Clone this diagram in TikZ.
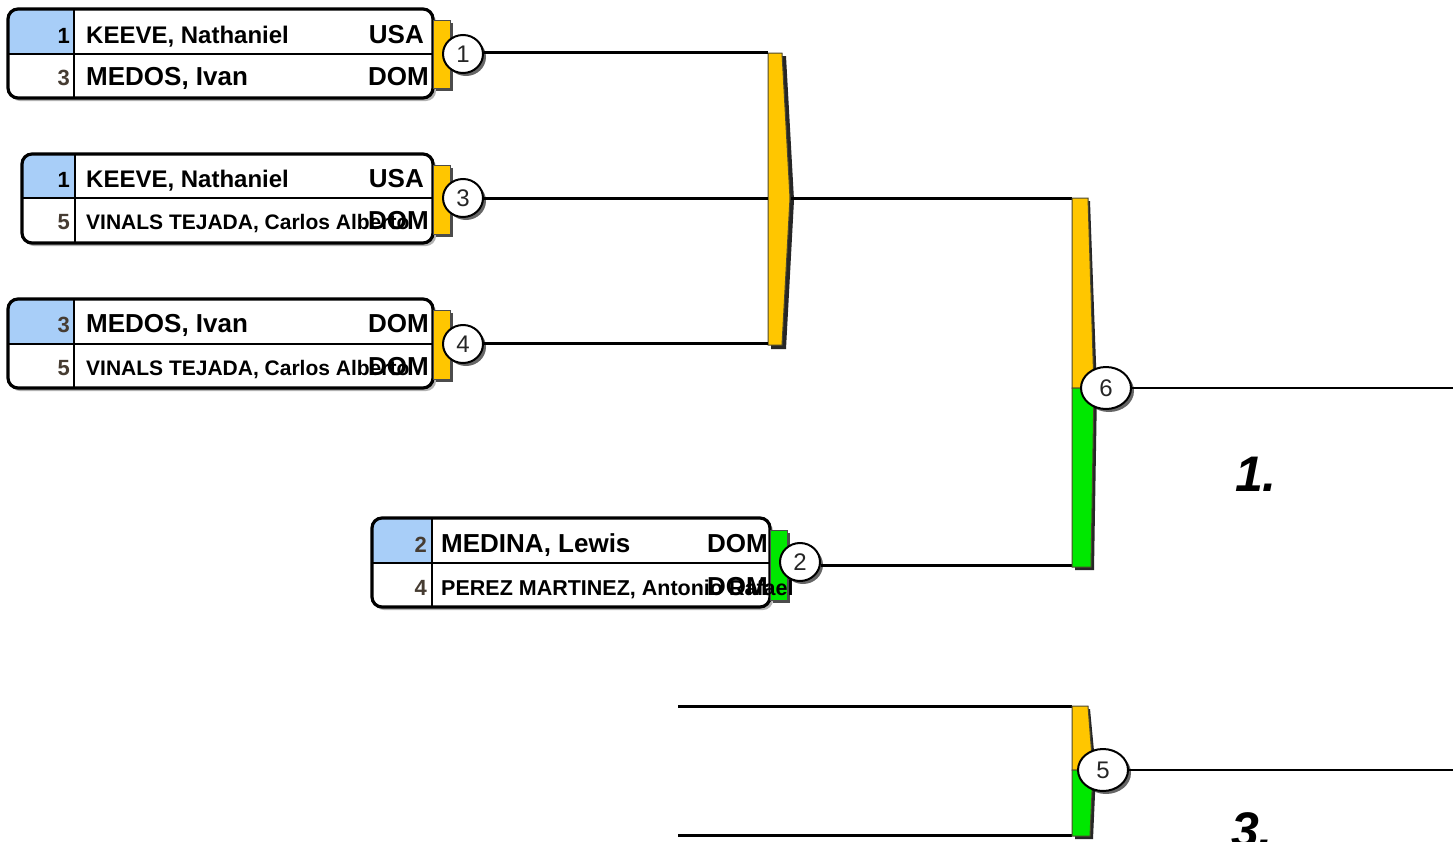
\documentclass[tikz,border=0pt]{standalone}
\usepackage{fontspec}
\setmainfont{Liberation Sans}
\usetikzlibrary{shapes.geometric,shadows}
\definecolor{gold}{RGB}{255,198,0}
\definecolor{grn}{RGB}{0,232,0}
\definecolor{seedblue}{RGB}{168,206,248}
\definecolor{seedtxt}{RGB}{70,60,50}
\newcommand\fsz[1]{\fontsize{#1}{#1}\selectfont}
\tikzset{
  boxshadow/.style={fill=black!30, rounded corners=10},
  boxframe/.style={draw=black, line width=3.2, rounded corners=10},
  cell/.style={draw=black, line width=1.5},
  seed/.style={anchor=base east, inner sep=0, text=seedtxt, font=\bfseries\fsz{22}},
  bigname/.style={anchor=base west, inner sep=0, font=\bfseries\fsz{26}},
  smallname/.style={anchor=base west, inner sep=0, font=\bfseries\fsz{21}},
  cty/.style={anchor=base east, inner sep=0, font=\bfseries\fsz{26}},
  tab/.style={draw=black!70, line width=1},
  num/.style={ellipse, draw=black, line width=2, fill=white, inner sep=0,
     minimum width=40, minimum height=38, text=black!85, font=\fsz{24},
     drop shadow={shadow xshift=3pt, shadow yshift=-3pt, fill=black, opacity=.6}},
  conn/.style={draw=black, line width=3},
  thin/.style={draw=black, line width=1.8},
  bar/.style={draw=black!60!olive, line width=1},
  barshadow/.style={fill=black!85},
  place/.style={inner sep=0, font=\bfseries\itshape\fsz{50}}
}
\begin{document}
\begin{tikzpicture}[x=1pt,y=-1pt]
\useasboundingbox (0,0) rectangle (1453,841);
\fill[white] (0,0) rectangle (1453,841);

% ---------- match box 1 ----------
\fill[boxshadow] (10,12) rectangle (436,101);
\fill[white, rounded corners=10] (8,9) rectangle (433,98);
\begin{scope}\clip[rounded corners=10] (8,9) rectangle (433,98);
\fill[seedblue] (8,9) rectangle (74,54);\end{scope}
\draw[cell] (74,9) -- (74,98) (8,54) -- (433,54);
\draw[boxframe] (8,9) rectangle (433,98);
\node[seed, text=black] (s1a) at (70,43) {1};
\node[bigname, font=\bfseries\fsz{24}] (n1a) at (86,43) {KEEVE, Nathaniel};
\node[cty] (k1a) at (424,43) {USA};
\node[seed] (s1b) at (70,85) {3};
\node[bigname] (n1b) at (86,85) {MEDOS, Ivan};
\node[cty] (k1b) at (429,85) {DOM};
\fill[black!70] (436,23) rectangle (453,91);
\filldraw[tab, fill=gold] (433,20) rectangle (450,88);
\node[num] (c1) at (463,54) {1};

% ---------- match box 3 ----------
\fill[boxshadow] (24,157) rectangle (436,246);
\fill[white, rounded corners=10] (22,154) rectangle (433,243);
\begin{scope}\clip[rounded corners=10] (22,154) rectangle (433,243);
\fill[seedblue] (22,154) rectangle (75,198);\end{scope}
\draw[cell] (75,154) -- (75,243) (22,198) -- (433,198);
\draw[boxframe] (22,154) rectangle (433,243);
\node[seed, text=black] (s3a) at (70,187) {1};
\node[bigname, font=\bfseries\fsz{24}] (n3a) at (86,187) {KEEVE, Nathaniel};
\node[cty] (k3a) at (424,187) {USA};
\node[seed] (s3b) at (70,229) {5};
\node[smallname] (n3b) at (86,229) {VINALS TEJADA, Carlos Alberto};
\node[cty] (k3b) at (429,229) {DOM};
\fill[black!70] (436,168) rectangle (453,237);
\filldraw[tab, fill=gold] (433,165) rectangle (450,234);
\node[num] (c3) at (463,198) {3};

% ---------- match box 4 ----------
\fill[boxshadow] (10,302) rectangle (436,391);
\fill[white, rounded corners=10] (8,299) rectangle (433,388);
\begin{scope}\clip[rounded corners=10] (8,299) rectangle (433,388);
\fill[seedblue] (8,299) rectangle (74,344);\end{scope}
\draw[cell] (74,299) -- (74,388) (8,344) -- (433,344);
\draw[boxframe] (8,299) rectangle (433,388);
\node[seed] (s4a) at (70,332) {3};
\node[bigname] (n4a) at (86,332) {MEDOS, Ivan};
\node[cty] (k4a) at (429,332) {DOM};
\node[seed] (s4b) at (70,375) {5};
\node[smallname] (n4b) at (86,375) {VINALS TEJADA, Carlos Alberto};
\node[cty] (k4b) at (429,375) {DOM};
\fill[black!70] (436,313) rectangle (453,382);
\filldraw[tab, fill=gold] (433,310) rectangle (450,379);
\node[num] (c4) at (463,344) {4};

% ---------- match box 2 ----------
\fill[boxshadow] (374,521) rectangle (773,610);
\fill[white, rounded corners=10] (372,518) rectangle (770,607);
\begin{scope}\clip[rounded corners=10] (372,518) rectangle (770,607);
\fill[seedblue] (372,518) rectangle (432,563);\end{scope}
\draw[cell] (432,518) -- (432,607) (372,563) -- (770,563);
\draw[boxframe] (372,518) rectangle (770,607);
\node[seed] (s2a) at (427,552) {2};
\node[bigname] (n2a) at (441,552) {MEDINA, Lewis};
\node[cty] (k2a) at (768,552) {DOM};
\node[seed] (s2b) at (427,595) {4};
\fill[black!70] (773,533) rectangle (790,603);
\filldraw[tab, fill=grn] (770,530) rectangle (787,600);
\node[smallname, font=\bfseries\fsz{21.5}] (n2b) at (441,595) {PEREZ MARTINEZ, Antonio Rafael};
\node[cty] (k2b) at (768,595) {DOM};
\node[num] (c2) at (800,562) {2};

% ---------- bar A (matches 1,3,4) ----------
\coordinate (a1) at (768,52);
\coordinate (a3) at (768,198);
\coordinate (a4) at (768,343);
\coordinate (aout) at (791,198);
\fill[barshadow] (771,56) -- (786,56) -- (794,200) -- (786,349) -- (771,349) -- cycle;
\filldraw[bar, fill=gold] (768,53) -- (782,53) -- (790,198) -- (782,345) -- (768,345) -- cycle;
\draw[conn] (c1.east |- a1) -- (a1);
\draw[conn] (c3.east) -- (a3);
\draw[conn] (c4.east |- a4) -- (a4);

% ---------- bar 6 ----------
\coordinate (b6in) at (1072,198);
\coordinate (b6in2) at (1072,565);
\draw[conn] (aout) -- (b6in);
\draw[conn] (c2.east |- b6in2) -- (b6in2);
\fill[barshadow] (1075,201) -- (1090,201) -- (1097,390) -- (1094,570) -- (1075,570) -- cycle;
\filldraw[bar, fill=gold] (1072,198) -- (1088,198) -- (1094,388) -- (1072,388) -- cycle;
\filldraw[bar, fill=grn] (1072,388) -- (1094,388) -- (1091,567) -- (1072,567) -- cycle;
\node[num, minimum width=50, minimum height=42] (c6) at (1106,388) {6};
\coordinate (e6) at (1453,388);
\draw[thin] (c6.east) -- (e6);
\node[place] (p1) at (1256,474) {1.};

% ---------- bar 5 ----------
\coordinate (l5a) at (678,706);
\coordinate (l5b) at (678,835);
\coordinate (b5a) at (1072,706);
\coordinate (b5b) at (1072,835);
\draw[conn] (l5a) -- (b5a);
\draw[conn] (l5b) -- (b5b);
\fill[barshadow] (1075,709) -- (1090,709) -- (1096,772) -- (1093,839) -- (1075,839) -- cycle;
\filldraw[bar, fill=gold] (1072,706) -- (1088,706) -- (1093,770) -- (1072,770) -- cycle;
\filldraw[bar, fill=grn] (1072,770) -- (1093,770) -- (1090,836) -- (1072,836) -- cycle;
\node[num, minimum width=50, minimum height=42] (c5) at (1103,770) {5};
\coordinate (e5) at (1453,770);
\draw[thin] (c5.east) -- (e5);
\node[place] (p3) at (1252,830) {3.};
\end{tikzpicture}
\end{document}
